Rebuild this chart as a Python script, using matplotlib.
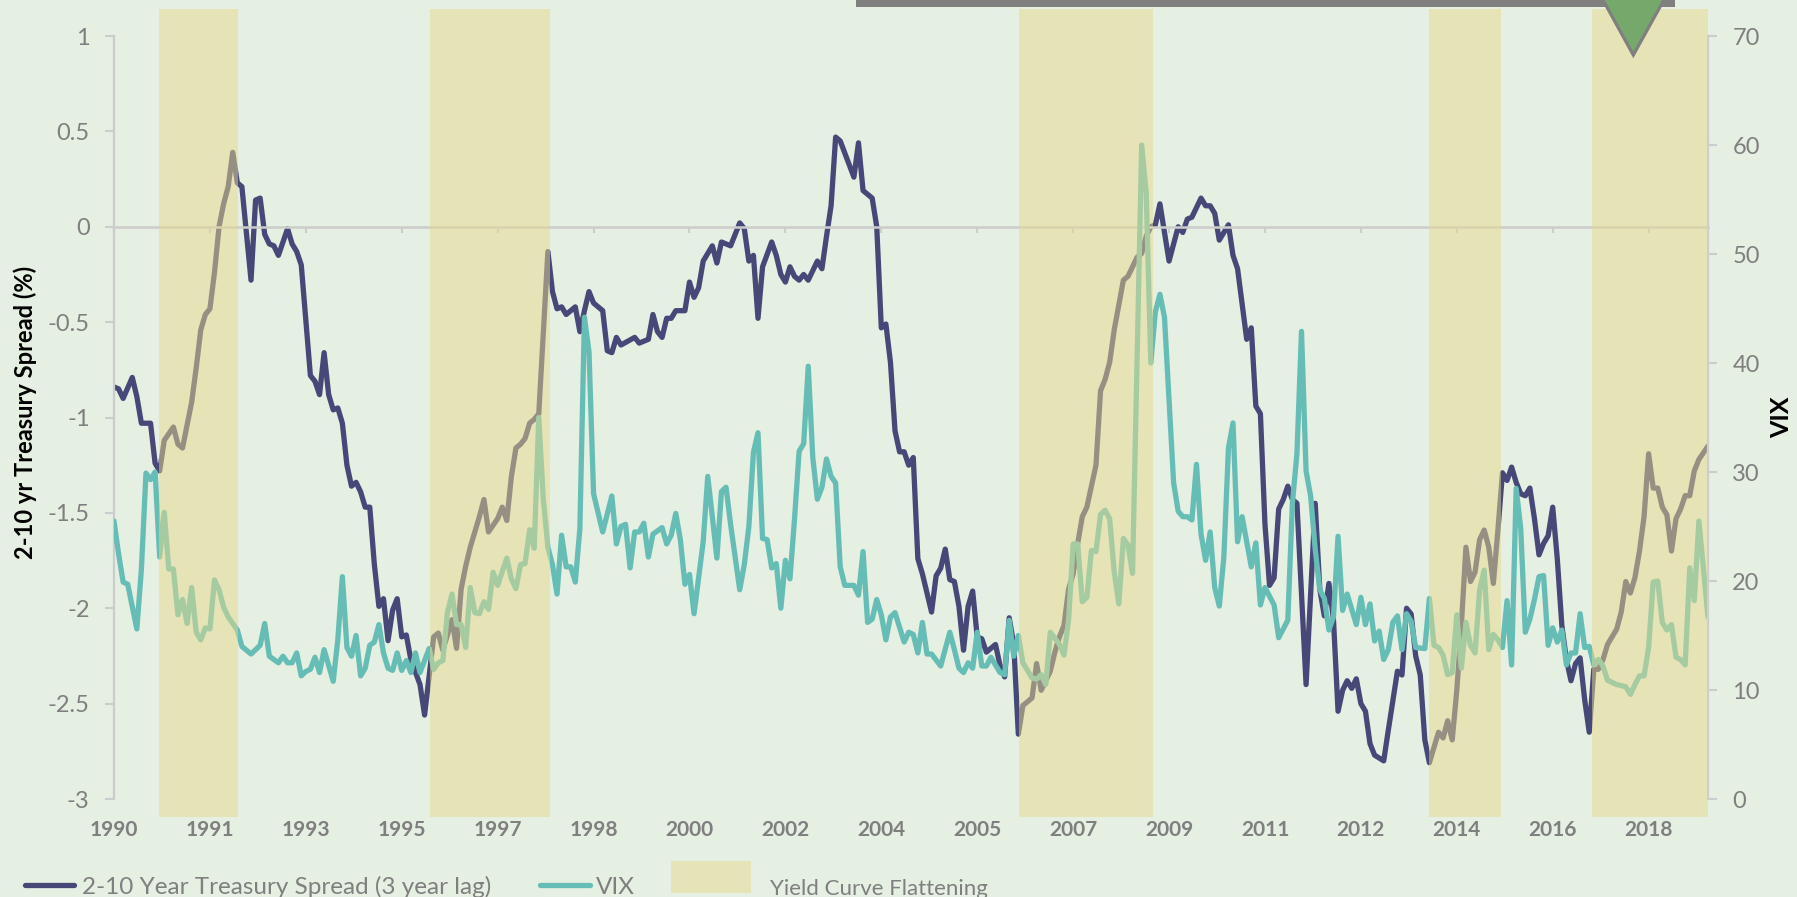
import matplotlib
matplotlib.use("Agg")
import matplotlib.pyplot as plt
from matplotlib import transforms
from matplotlib.patches import Rectangle, Polygon
from matplotlib.lines import Line2D
from matplotlib.ticker import FuncFormatter
import numpy as np
import pandas as pd

plt.rcParams['font.family'] = ['Lato', 'DejaVu Sans']

# ---------------- data ----------------
start_month = '1990-01'
n_months = 350
dates = pd.date_range(start_month, periods=n_months, freq='MS')

# 2-10 year treasury spread (3 year lag), months since Jan 1990
spread_month = [
    0, 1, 2, 4, 5, 6, 8, 9, 10, 11, 13, 14, 15, 17, 18, 19, 20, 21, 22, 23, 24, 25, 26, 27, 28, 30, 31, 32, 33, 34,
    35, 36, 38, 39, 40, 41, 43, 44, 45, 46, 47, 48, 49, 50,
    51, 52, 53, 54, 55, 56, 57, 58, 59, 60, 61, 62, 63, 64, 65, 67, 68, 70, 71, 72, 74, 75, 76, 77, 78, 80, 81, 82, 84, 85,
    86, 87, 88, 89, 90, 91, 92, 93, 94, 95, 96, 97, 98, 99,
    101, 102, 103, 104, 105, 106, 107, 108, 109, 110, 111, 114, 115, 117, 118, 119, 120, 121, 122, 123,
    125, 126, 127, 128, 129, 131, 132, 133, 135, 137, 138, 139, 140, 141, 142, 144, 145, 146, 147, 148, 149, 150,
    151, 152, 154, 155, 156, 157, 158, 159, 162, 163, 164, 166, 167, 168, 169, 170, 171, 172, 173, 174,
    175, 176, 177, 179, 180, 181, 182, 183, 184, 185, 186, 187, 188, 189, 190, 191, 193, 194, 195, 196, 197, 198, 199, 200,
    201, 202, 203, 205, 206, 207, 208, 209, 210, 211, 212, 213, 215, 216, 217, 218, 219, 221, 222, 223,
    224, 225, 226, 227, 228, 229, 231, 233, 234, 235, 236, 238, 239, 240, 241, 242, 243, 244, 245, 246, 248, 249, 250,
    251, 252, 253, 254, 255, 256, 257, 258, 259, 261, 263, 264, 265, 266, 267, 268, 269, 270, 271, 272,
    273, 274, 275, 276, 278, 279, 281, 282, 283, 284, 285, 286, 287, 288, 290, 291, 292, 293, 294, 295,
    296, 297, 298, 299, 300,
    301, 302, 303, 304, 305, 306, 307, 308, 309, 310, 311, 312, 313, 314, 315, 316, 317, 318, 319, 320,
    321, 322, 323, 324, 325, 326, 327, 329, 330, 331, 332, 333, 334, 335, 336, 337, 338, 339, 340, 341,
    342, 343, 344, 345, 346, 347, 349]
spread_value = [
    -0.84, -0.85, -0.90, -0.79, -0.89, -1.03, -1.03, -1.24, -1.28, -1.12, -1.05, -1.14, -1.16, -0.92, -0.74, -0.54, -0.46, -0.43, -0.24, 0.00,
    0.12, 0.21, 0.39, 0.23, 0.21, -0.28, 0.14, 0.15, -0.04, -0.09, -0.10, -0.15, -0.01, -0.09, -0.13, -0.20, -0.78, -0.81, -0.88, -0.66,
    -0.88, -0.96, -0.95, -1.03,
    -1.25, -1.36, -1.34, -1.39, -1.47, -1.47, -1.77, -1.99, -1.95, -2.17, -2.01, -1.95, -2.15, -2.14, -2.27, -2.40, -2.56, -2.15, -2.13, -2.22,
    -2.06, -2.21, -1.90, -1.78, -1.68, -1.52, -1.43, -1.60, -1.53, -1.47, -1.54, -1.31, -1.16, -1.14, -1.11, -1.03, -1.01, -0.98, -0.55, -0.13,
    -0.34, -0.43, -0.42, -0.46,
    -0.42, -0.55, -0.44, -0.34, -0.40, -0.42, -0.44, -0.65, -0.66, -0.58, -0.62, -0.58, -0.61, -0.59, -0.46, -0.55, -0.58, -0.48, -0.48, -0.44,
    -0.44, -0.29, -0.37, -0.32, -0.18, -0.10, -0.19, -0.08, -0.10, 0.02, -0.01, -0.18, -0.15, -0.48, -0.21, -0.08, -0.15, -0.25, -0.29, -0.21,
    -0.26, -0.28,
    -0.25, -0.28, -0.18, -0.22, -0.05, 0.11, 0.47, 0.45, 0.26, 0.44, 0.19, 0.15, 0.00, -0.53, -0.51, -0.71, -1.07, -1.18, -1.18, -1.25,
    -1.21, -1.74, -1.82, -2.02, -1.83, -1.79, -1.69, -1.85, -1.86, -1.99, -2.22, -1.99, -1.91, -2.15, -2.16, -2.23, -2.19, -2.30, -2.36, -2.05,
    -2.19, -2.66, -2.51, -2.49,
    -2.47, -2.29, -2.43, -2.33, -2.23, -2.15, -2.09, -1.90, -1.82, -1.66, -1.52, -1.47, -1.25, -0.86, -0.80, -0.71, -0.54, -0.28, -0.26, -0.21,
    -0.16, -0.14, -0.05, 0.00, 0.01, 0.12, -0.18, 0.00, -0.03, 0.04, 0.05, 0.15, 0.11, 0.11, 0.07, -0.07, -0.03, 0.01, -0.15, -0.22,
    -0.59, -0.53, -0.94,
    -0.98, -1.56, -1.88, -1.84, -1.48, -1.43, -1.36, -1.43, -1.45, -2.40, -1.45, -1.90, -2.04, -1.87, -2.06, -2.54, -2.43, -2.38, -2.42, -2.37,
    -2.50, -2.54, -2.71, -2.77, -2.80, -2.64, -2.33, -2.35, -2.00, -2.03, -2.25, -2.35, -2.69, -2.81, -2.65, -2.68, -2.59, -2.69, -2.43, -2.09,
    -1.68, -1.86, -1.81, -1.64, -1.59,
    -1.68, -1.87, -1.59, -1.29, -1.33, -1.26, -1.34, -1.40, -1.41, -1.37, -1.53, -1.72, -1.66, -1.62, -1.47, -1.74, -2.09, -2.27, -2.38, -2.29,
    -2.26, -2.48, -2.65, -2.32, -2.32, -2.27, -2.19, -2.11, -2.02, -1.86, -1.92, -1.84, -1.70, -1.52, -1.19, -1.37, -1.37, -1.47, -1.51, -1.70,
    -1.53, -1.48, -1.41, -1.41, -1.28, -1.22, -1.15]

# VIX, months since Jan 1990
vix_month = [
    0, 1, 2, 3, 5, 6, 7, 8, 9, 10, 11, 12, 13, 14, 15, 16, 17, 18, 19, 20, 21, 22, 23, 24, 25, 27, 28, 30, 32, 33,
    34, 36, 37, 38, 39, 40, 41, 42, 43, 44, 45, 46, 48, 49, 50,
    51, 52, 53, 54, 55, 56, 57, 58, 59, 60, 61, 62, 63, 64, 65, 66, 67, 69, 70, 71, 72, 73, 74, 75, 76, 77, 78, 79, 80, 81,
    82, 83, 84, 86, 87, 88, 89, 90, 91, 92, 93, 94, 95, 96, 97, 98, 99, 100,
    101, 102, 103, 104, 105, 107, 109, 110, 111, 112, 113, 114, 115, 116, 117, 118, 120, 121, 122, 123,
    124, 125, 126, 127, 129, 130, 131, 132, 133, 134, 135, 137, 138, 139, 140, 141, 142, 143, 144, 145,
    146, 147, 148, 149, 150,
    151, 152, 153, 154, 155, 156, 157, 158, 159, 160, 162, 163, 164, 165, 166, 167, 168, 169, 170, 171,
    173, 174, 175, 176, 177, 178, 179, 181, 183, 184, 185, 186, 187, 188, 189, 190, 191, 192, 194, 195,
    196, 197, 198, 199, 200,
    201, 202, 203, 204, 205, 207, 208, 209, 210, 211, 212, 213, 214, 215, 216, 217, 218, 219, 220, 221,
    222, 223, 225, 226, 227, 228, 229, 230, 232, 233, 234, 235, 236, 237, 238, 239, 240, 241, 242, 243,
    244, 245, 246, 247, 249, 250,
    251, 252, 254, 255, 257, 258, 259, 260, 261, 262, 263, 264, 265, 266, 267, 268, 269, 270, 272, 273,
    274, 275, 276, 277, 278, 279, 280, 281, 282, 283, 284, 285, 287, 288, 289, 290, 291, 292, 293, 294,
    295, 296, 297, 298, 299, 300,
    301, 302, 303, 304, 305, 306, 307, 308, 309, 310, 311, 312, 313, 314, 315, 316, 317, 318, 319, 320,
    321, 322, 323, 324, 325, 326, 327, 329, 330, 331, 332, 333, 334, 335, 336, 337, 338, 339, 340, 341,
    342, 343, 344, 345, 346, 347, 349]
vix_value = [
    25.5, 22.5, 19.9, 19.7, 15.6, 21.1, 29.9, 29.3, 30.0, 22.2, 26.3, 21.1, 21.1, 16.9, 18.3, 16.1, 19.4, 15.3, 14.6, 15.7,
    15.6, 20.1, 19.2, 17.6, 16.7, 15.5, 14.0, 13.3, 14.1, 16.1, 13.1, 12.5, 13.1, 12.5, 12.5, 13.4, 11.3, 11.7, 11.9, 13.0,
    11.6, 13.7, 10.8, 14.6, 20.4,
    13.9, 13.1, 15.0, 11.3, 12.0, 14.1, 14.4, 16.0, 13.4, 12.0, 11.8, 13.4, 11.8, 12.7, 11.6, 13.4, 11.6, 13.8, 11.9, 12.5,
    12.7, 17.1, 18.8, 16.0, 16.0, 13.9, 19.4, 17.1, 17.0, 18.1, 17.4, 20.8, 19.6, 22.1, 20.2, 19.3, 21.5, 21.6, 24.7, 23.0,
    35.0, 27.5, 23.1, 21.5, 18.8, 24.2, 21.3, 21.3,
    19.9, 24.8, 44.2, 41.0, 28.0, 24.5, 27.8, 23.4, 25.0, 25.2, 21.2, 24.5, 24.5, 25.3, 22.2, 24.3, 24.9, 23.4, 24.2, 26.2,
    23.8, 19.7, 20.6, 17.0, 23.6, 29.6, 25.9, 22.1, 28.2, 28.6, 25.2, 19.2, 21.5, 25.0, 31.8, 33.6, 23.9, 23.8, 21.2, 21.6,
    17.5, 21.9, 20.2, 25.7, 31.9,
    32.6, 39.7, 31.3, 27.5, 28.6, 31.2, 29.6, 29.0, 21.3, 19.6, 19.6, 18.7, 22.7, 16.2, 16.5, 18.3, 16.9, 14.6, 16.7, 17.1,
    14.4, 15.3, 15.1, 13.4, 16.2, 13.3, 13.3, 12.2, 15.3, 13.7, 12.0, 11.6, 12.5, 12.0, 15.3, 12.2, 12.2, 13.0, 11.6, 11.4,
    16.4, 13.1, 15.0, 12.5, 11.8,
    11.1, 11.0, 11.4, 10.5, 15.3, 14.2, 13.2, 16.4, 23.4, 23.4, 18.1, 18.5, 22.8, 22.7, 26.1, 26.5, 25.7, 20.8, 17.9, 23.9,
    23.3, 20.7, 60.0, 55.6, 40.0, 44.7, 46.3, 44.2, 29.0, 26.4, 25.9, 25.9, 25.6, 30.7, 24.3, 21.9, 24.5, 19.4, 17.7, 22.2,
    32.2, 34.5, 23.6, 25.9, 21.3, 23.5,
    17.8, 19.4, 17.8, 14.8, 16.4, 27.1, 31.7, 42.9, 30.1, 27.8, 22.9, 19.2, 18.4, 15.5, 16.7, 24.1, 17.3, 18.8, 16.0, 18.5,
    16.0, 17.9, 14.5, 15.4, 12.8, 13.7, 16.2, 16.8, 13.7, 17.0, 16.3, 13.9, 13.8, 18.4, 14.1, 13.9, 13.2, 11.4, 11.6, 16.9,
    12.0, 16.2, 14.1, 13.4, 19.2, 21.0,
    13.7, 15.1, 14.6, 13.9, 18.2, 12.3, 28.5, 24.8, 15.3, 16.5, 18.3, 20.4, 20.5, 14.1, 15.7, 14.4, 15.5, 12.3, 13.4, 13.4,
    17.0, 13.9, 14.0, 12.3, 12.8, 12.2, 10.9, 10.5, 10.4, 10.3, 9.6, 10.5, 11.3, 11.3, 13.9, 19.9, 20.0, 16.2, 15.5, 16.0,
    13.0, 12.8, 12.3, 21.2, 18.2, 25.5, 16.7]

# Yield curve flattening periods (months since Jan 1990)
flat_start = [9.85, 69.25, 198.15, 287.85, 323.55]
flat_end = [27.25, 95.55, 227.55, 303.75, 349.0]

spread_ticks = [1, 0.5, 0, -0.5, -1, -1.5, -2, -2.5, -3]
vix_ticks = [0, 10, 20, 30, 40, 50, 60, 70]
label_every = 21

assert len(spread_month) == len(spread_value)
assert len(vix_month) == len(vix_value)

# ---------------- style ----------------
W, H = 1797, 897
BG = '#e5efe2'
NAVY = '#464878'
TEAL = '#66bdb6'
SHADE = (231 / 255, 217 / 255, 142 / 255)
AXC = '#cccccc'
TXT = '#7f7f7f'
LW = 3.8

fig = plt.figure(figsize=(W / 100, H / 100), dpi=100, facecolor=BG)
x0, x1, ytop, ybot = 114, 1708, 36, 799
ax = fig.add_axes([x0 / W, 1 - ybot / H, (x1 - x0) / W, (ybot - ytop) / H])
ax.set_facecolor(BG)
ax2 = ax.twinx()
ax2.patch.set_visible(False)

ax.plot(spread_month, spread_value, color=NAVY, lw=LW, solid_joinstyle='round', solid_capstyle='round', zorder=2)
ax2.plot(vix_month, vix_value, color=TEAL, lw=LW, solid_joinstyle='round', solid_capstyle='round', zorder=2)

ax.set_xlim(0, n_months - 1)
ax.set_ylim(-3, 1)
ax2.set_ylim(0, 70)

# spines
for s in ['top', 'right']:
    ax.spines[s].set_visible(False)
for s in ['top', 'left', 'bottom']:
    ax2.spines[s].set_visible(False)
ax.spines['left'].set_color(AXC)
ax.spines['left'].set_linewidth(1.6)
ax.spines['bottom'].set_position(('data', 0))
ax.spines['bottom'].set_color(AXC)
ax.spines['bottom'].set_linewidth(1.8)
ax2.spines['right'].set_color(AXC)
ax2.spines['right'].set_linewidth(1.6)

ax.set_yticks(spread_ticks)
ax.yaxis.set_major_formatter(FuncFormatter(lambda v, p: f'{v:g}'))
ax2.set_yticks(vix_ticks)
ax.tick_params(axis='y', direction='out', length=6.5, width=1.5, color=AXC,
               labelsize=17, labelcolor=TXT, pad=11)
ax2.tick_params(axis='y', direction='out', length=6.5, width=1.5, color=AXC,
                labelsize=17, labelcolor=TXT, pad=11)

tick_idx = list(range(0, n_months, label_every))
ax.set_xticks(tick_idx)
ax.tick_params(axis='x', direction='out', length=4.5, width=1.5, color=AXC, labelbottom=False)
xt = transforms.blended_transform_factory(ax.transData, fig.transFigure)
for i in tick_idx:
    ax.text(i, 1 - 830 / H, str(dates[i].year), transform=xt, ha='center', va='center',
            fontsize=15, fontweight='bold', color=TXT)

# axis titles
fig.text(25 / W, 1 - 412.5 / H, '2-10 yr Treasury Spread (%)', rotation=90, ha='center', va='center',
         fontsize=17, fontweight='bold', color='black')
fig.text(1782 / W, 1 - 417 / H, 'VIX', rotation=90, ha='center', va='center',
         fontsize=18, fontweight='bold', color='black')

# shaded flattening periods, drawn over the lines
for a, b in zip(flat_start, flat_end):
    ax2.add_patch(Rectangle((a, -3.095), b - a, 1.14 + 3.095, transform=ax.transData,
                            facecolor=SHADE, alpha=0.5, edgecolor='none', zorder=5, clip_on=False))

# decorations at the top (cut-off callout)
fig.patches.append(Rectangle((856 / W, 1 - 7 / H), (1674.6 - 856) / W, 8 / H, transform=fig.transFigure,
                             facecolor='#7f7f7f', edgecolor='none', zorder=10))
fig.patches.append(Polygon([(1592 / W, 1 + 20 / H), (1675 / W, 1 + 20 / H), (1633.3 / W, 1 - 55 / H)],
                           closed=True, transform=fig.transFigure, facecolor='#77a86b',
                           edgecolor='#7f7f7f', linewidth=2.3, zorder=10))

# legend
ly = 1 - 884.7 / H
fig.lines.append(Line2D([24.5 / W, 74 / W], [ly, ly], transform=fig.transFigure, color=NAVY, lw=LW,
                        solid_capstyle='round'))
fig.text(81.6 / W, 1 - 894 / H, '2-10 Year Treasury Spread (3 year lag)', fontsize=17.5, color=TXT, va='baseline')
fig.lines.append(Line2D([539.5 / W, 589.5 / W], [ly, ly], transform=fig.transFigure, color=TEAL, lw=LW,
                        solid_capstyle='round'))
fig.text(596 / W, 1 - 894 / H, 'VIX', fontsize=17.5, color=TXT, va='baseline')
fig.patches.append(Rectangle((671 / W, 1 - 893 / H), 80 / W, 32 / H, transform=fig.transFigure,
                             facecolor=SHADE, alpha=0.5, edgecolor='none'))
fig.text(770 / W, 1 - 895 / H, 'Yield Curve Flattening', fontsize=16, color=TXT, va='baseline')

fig.savefig('out.png', dpi=100, facecolor=BG)
